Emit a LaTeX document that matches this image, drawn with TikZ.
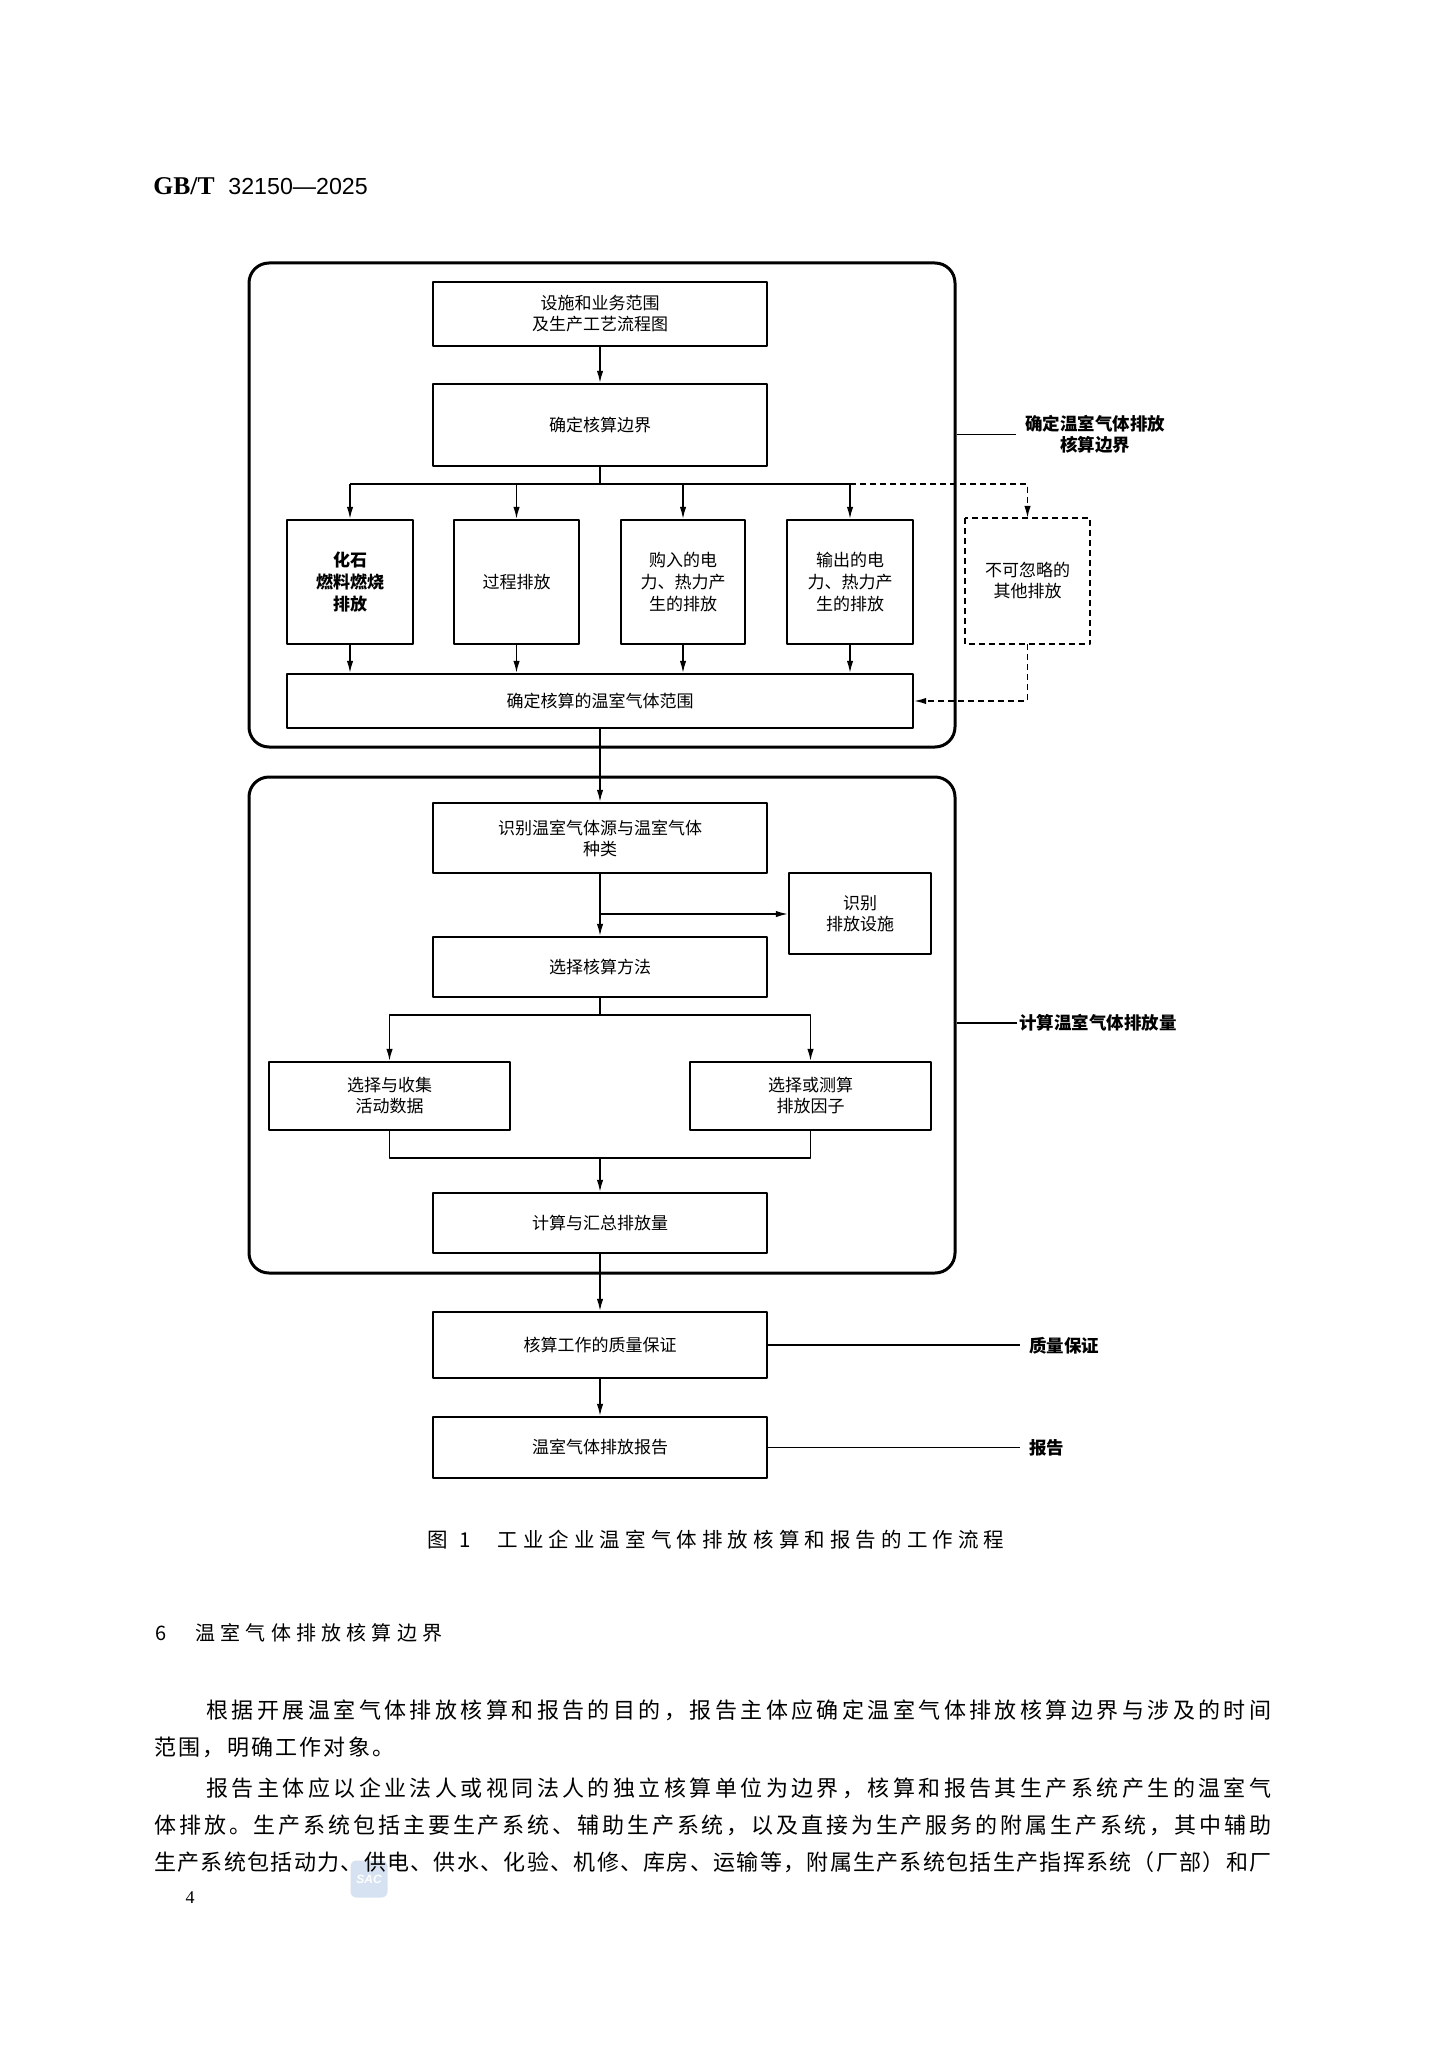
\documentclass[tikz,border=0pt]{standalone}
\usepackage{fontspec}
\setmainfont{Liberation Serif}
\newfontfamily\cjk{Noto Sans CJK SC}
\newfontfamily\hdsans{Liberation Sans}
\usetikzlibrary{arrows.meta}
\definecolor{sacblue}{RGB}{214,226,242}
\makeatletter
\newcommand\spreadline[2]{\makebox[#1][s]{\def\spsep{}\@tfor\spch:=#2\do{\spsep\spch\def\spsep{\hfil}}}}
\makeatother
\begin{document}
\begin{tikzpicture}[x=0.5pt, y=-0.5pt, line join=round, >={Latex[length=6pt,width=3.2pt]},
		box/.style={draw, line width=1.1pt, align=center, inner sep=1pt, font=\cjk\fontsize{8.5}{10.5}\selectfont},
		frame/.style={draw, line width=1.5pt, rounded corners=10pt},
		conn/.style={line width=0.75pt},
		dashline/.style={conn, dash pattern=on 3pt off 2pt},
		lbl/.style={align=center, inner sep=1pt, font=\cjk\bfseries\fontsize{8.75}{10.5}\selectfont},
		body/.style={anchor=west, inner sep=0pt, font=\cjk\fontsize{11}{13}\selectfont}]
				\fill[white] (0,0) rectangle (1448,2048);
				\useasboundingbox (0,0) rectangle (1448,2048);
				\node[fill=sacblue, rounded corners=3pt, minimum size=18.5pt, inner sep=0pt, text=white, font=\hdsans\itshape\bfseries\fontsize{6}{6}\selectfont] (wm) at (369,1879) {SAC};
				\node[anchor=base west, inner sep=0pt] (hdr) at (153,195) {\fontsize{12.8}{14}\selectfont\bfseries GB/T};
				\node[anchor=base west, inner sep=0pt] (hdrno) at (228,195) {\hdsans\fontsize{11.6}{14}\selectfont 32150—2025};
				\node[frame, minimum width=353pt, minimum height=242pt] (bound) at (602,505) {};
				\node[frame, minimum width=353pt, minimum height=248pt] (calcf) at (602,1025) {};
				\node[box, minimum width=167pt, minimum height=32pt] (fac) at (600,314) {设施和业务范围\\及生产工艺流程图};
				\node[box, minimum width=167pt, minimum height=41pt] (bnd) at (600,425) {确定核算边界};
				\node[box, minimum width=63pt, minimum height=62pt, font=\cjk\bfseries\fontsize{8.5}{11}\selectfont] (fuel) at (350,582) {化石\\燃料燃烧\\排放};
				\node[box, minimum width=62.5pt, minimum height=62pt] (proc) at (516.5,582) {过程排放};
				\node[box, minimum width=62pt, minimum height=62pt, font=\cjk\fontsize{8.5}{11}\selectfont] (buy) at (683,582) {购入的电\\力、热力产\\生的排放};
				\node[box, minimum width=63pt, minimum height=62pt, font=\cjk\fontsize{8.5}{11}\selectfont] (out) at (850,582) {输出的电\\力、热力产\\生的排放};
				\node[box, draw=none, minimum width=61.5pt, minimum height=62pt] (other) at (1027.5,581) {不可忽略的\\其他排放};
				\draw[dashline] (other.north west) rectangle (other.south east);
				\node[box, minimum width=313pt, minimum height=27pt] (ghg) at (600,701) {确定核算的温室气体范围};
				\node[box, minimum width=167pt, minimum height=35pt] (src) at (600,838) {识别温室气体源与温室气体\\种类};
				\node[box, minimum width=71pt, minimum height=40.5pt] (fac2) at (860,913.5) {识别\\排放设施};
				\node[box, minimum width=167pt, minimum height=30pt] (meth) at (600,967) {选择核算方法};
				\node[box, minimum width=120.5pt, minimum height=34pt] (act) at (389.5,1096) {选择与收集\\活动数据};
				\node[box, minimum width=120.5pt, minimum height=34pt] (efac) at (810.5,1096) {选择或测算\\排放因子};
				\node[box, minimum width=167pt, minimum height=30pt] (calc) at (600,1223) {计算与汇总排放量};
				\node[box, minimum width=167pt, minimum height=33pt] (qa) at (600,1345) {核算工作的质量保证};
				\node[box, minimum width=167pt, minimum height=30.5pt] (rep) at (600,1447.5) {温室气体排放报告};
				\node[lbl, anchor=west] (lblA) at (1023,434.5) {确定温室气体排放\\核算边界};
				\node[lbl, anchor=west] (lblB) at (1017,1023) {计算温室气体排放量};
				\node[lbl, anchor=west] (lblC) at (1027,1346) {质量保证};
				\node[lbl, anchor=west] (lblD) at (1027,1447.5) {报告};
				\coordinate (split1) at (600,484);
				\coordinate (split2) at (600,914);
				\coordinate (split3) at (600,1015);
				\coordinate (merge) at (600,1158);
				\draw[conn,->] (fac) -- (bnd);
				\draw[conn] (bnd.south) -- (split1);
				\draw[conn] (split1 -| fuel.north) -- (split1 -| out.north);
				\foreach \n in {fuel,proc,buy,out}\draw[conn,->] (split1 -| \n.north) -- (\n.north);
				\draw[dashline,->] (split1 -| out.north) -| (other.north);
				\foreach \n in {fuel,proc,buy,out}\draw[conn,->] (\n.south) -- (\n.south |- ghg.north);
				\draw[dashline,->] (other.south) |- (ghg.east);
				\draw[conn,->] (ghg.south) -- (src.north);
				\draw[conn,->] (src.south) -- (meth.north);
				\draw[conn,->] (split2) -- (split2 -| fac2.west);
				\draw[conn] (meth.south) -- (split3);
				\draw[conn,->] (split3) -| (act.north);
				\draw[conn,->] (split3) -| (efac.north);
				\draw[conn] (act.south) |- (merge) -| (efac.south);
				\draw[conn,->] (merge) -- (calc.north);
				\draw[conn,->] (calc.south) -- (qa.north);
				\draw[conn,->] (qa) -- (rep);
				\draw[conn] (bound.east |- lblA.west) -- ([xshift=-3.5pt]lblA.west);
				\draw[conn] (calcf.east |- lblB.west) -- (lblB.west);
				\draw[conn] (qa.east) -- ([xshift=-3.5pt]qa.east -| lblC.west);
				\draw[conn] (rep.east) -- ([xshift=-3.5pt]rep.east -| lblD.west);
				\node[anchor=west, inner sep=0pt, font=\cjk\fontsize{10.25}{12}\selectfont] (capno) at (427,1540) {\spreadline{21.5pt}{图1}};
				\node[anchor=west, inner sep=0pt, font=\cjk\fontsize{10.25}{12}\selectfont] (cap) at (497,1540) {\spreadline{253.5pt}{工业企业温室气体排放核算和报告的工作流程}};
				\node[anchor=west, inner sep=0pt, font=\cjk\fontsize{10}{12}\selectfont] (secno) at (155,1633) {6};
				\node[anchor=west, inner sep=0pt, font=\cjk\fontsize{10}{12}\selectfont] (sec) at (195,1633) {\spreadline{123.5pt}{温室气体排放核算边界}};
				\node[body] (p1a) at (206,1710) {\spreadline{532.5pt}{根据开展温室气体排放核算和报告的目的，报告主体应确定温室气体排放核算边界与涉及的时间}};
				\node[body] (p1b) at (154,1747) {\spreadline{120pt}{范围，明确工作对象。}};
				\node[body] (p2a) at (206,1788) {\spreadline{532.5pt}{报告主体应以企业法人或视同法人的独立核算单位为边界，核算和报告其生产系统产生的温室气}};
				\node[body] (p2b) at (154,1825) {\spreadline{558.5pt}{体排放。生产系统包括主要生产系统、辅助生产系统，以及直接为生产服务的附属生产系统，其中辅助}};
				\node[body] (p2c) at (154,1862) {\spreadline{558.5pt}{生产系统包括动力、供电、供水、化验、机修、库房、运输等，附属生产系统包括生产指挥系统（厂部）和厂}};
				\node[inner sep=0pt, font=\fontsize{9}{10}\selectfont] (pgno) at (190,1898) {4};
			\end{tikzpicture}
\end{document}
